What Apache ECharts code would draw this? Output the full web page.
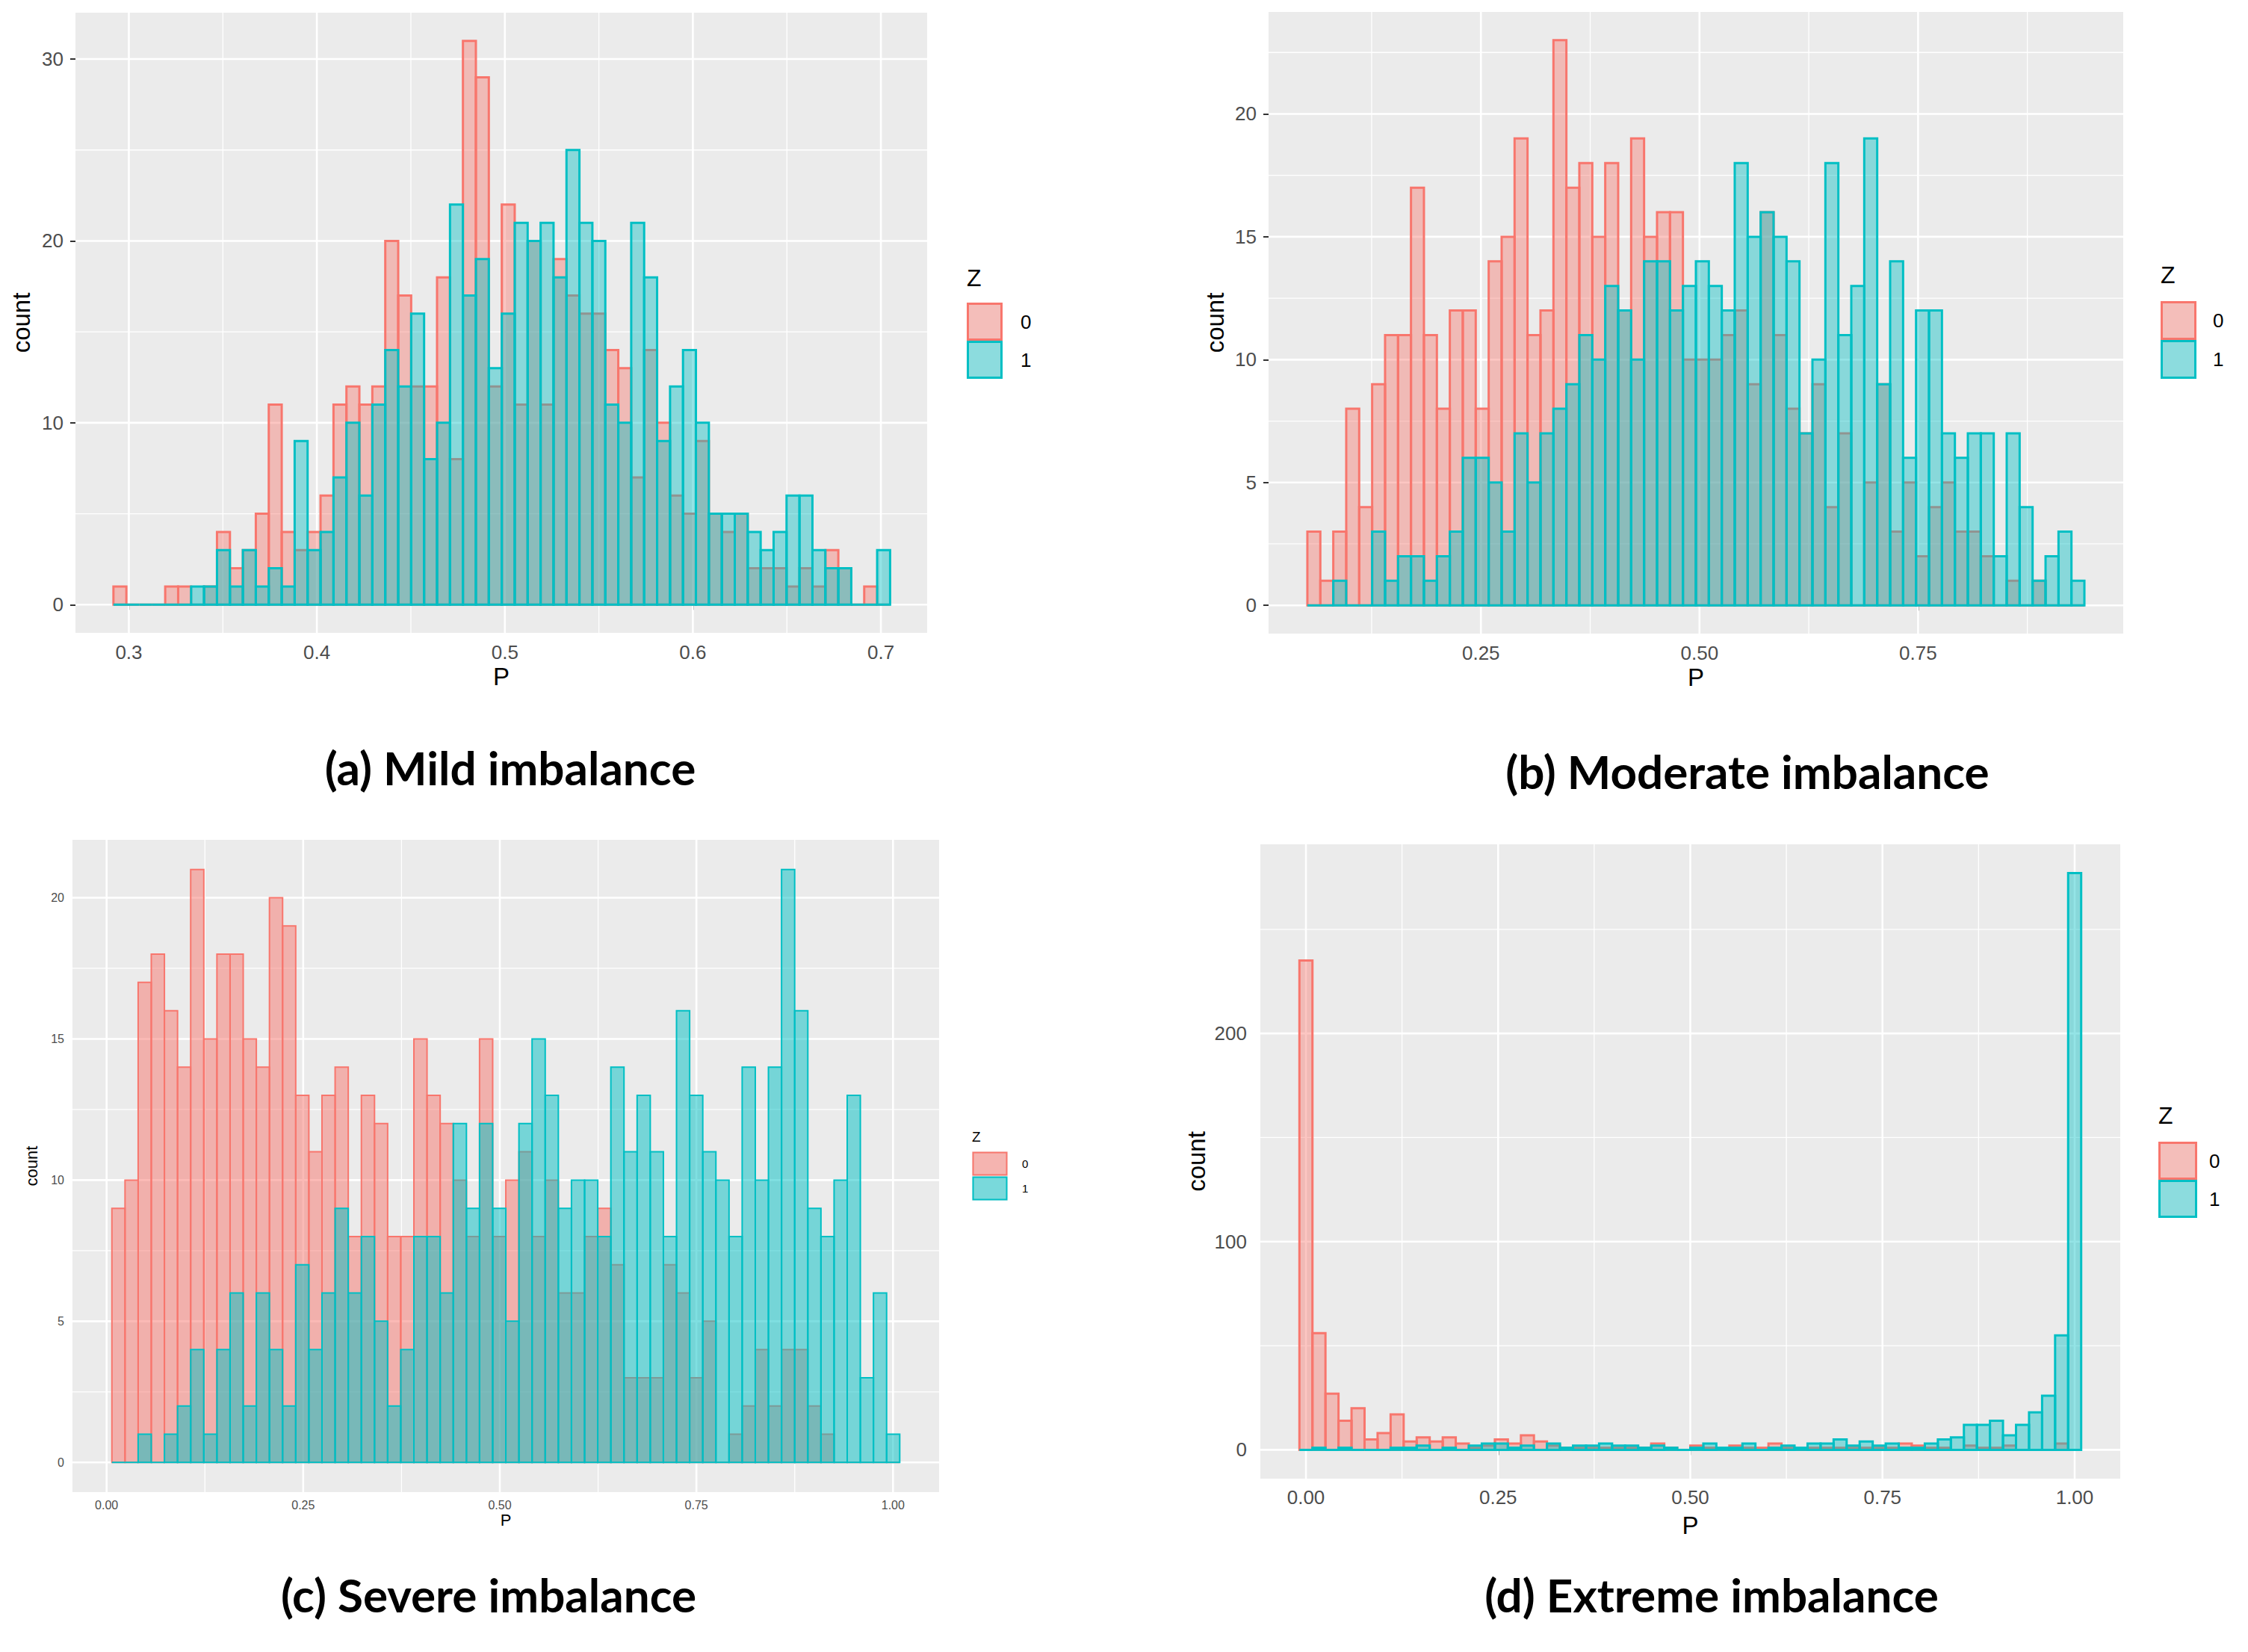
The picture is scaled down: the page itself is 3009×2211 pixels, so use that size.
<!DOCTYPE html>
<html>
<head>
<meta charset="utf-8">
<script src="https://cdn.jsdelivr.net/npm/echarts@6.0.0/dist/echarts.min.js"></script>
<style>
html, body { margin: 0; padding: 0; background: #ffffff; }
#grafico { width: 3009px; height: 2211px; }
</style>
</head>
<body>
<div id="grafico"></div>
<script>
// Datos: conteos por bin (60 bins por panel), Z = 0 (rojo) y Z = 1 (turquesa)
const rojoA = [1,0,0,0,1,1,0,1,4,2, 3,5,11,4,3,4,6,11,12,11, 12,20,17,12,12,18,8,31,29,12,
               22,11,20,11,19,17,16,16,14,13, 7,14,10,6,5,9,5,4,5,2, 2,2,1,2,1,3,2,0,1,0];
const turqA = [0,0,0,0,0,0,1,1,3,1, 3,1,2,1,9,3,4,7,10,6, 11,14,12,16,8,10,22,17,19,13,
               16,21,20,21,18,25,21,20,11,10, 21,18,9,12,14,10,5,5,5,4, 3,4,6,6,3,2,2,0,0,3];

const rojoB = [3,1,3,8,4,9,11,11,17,11, 8,12,12,8,14,15,19,11,12,23, 17,18,15,18,12,19,15,16,16,10,
               10,10,11,12,9,16,11,8,7,9, 4,7,0,5,9,3,5,2,4,5, 3,3,2,0,1,0,1,0,0,0];
const turqB = [0,0,1,0,0,3,1,2,2,1, 2,3,6,6,5,3,7,5,7,8, 9,11,10,13,12,10,14,14,12,13,
               14,13,12,18,15,16,15,14,7,10, 18,11,13,19,9,14,6,12,12,7, 6,7,7,2,7,4,1,2,3,1];

const rojoC = [9,10,17,18,16,14,21,15,18,18, 15,14,20,19,13,11,13,14,8,13, 12,8,8,15,13,12,10,8,15,8,
               10,11,8,10,6,6,8,9,7,3, 3,3,7,6,3,5,0,1,2,4, 2,4,4,2,1,0,0,0,0,0];
const turqC = [0,0,1,0,1,2,4,1,4,6, 2,6,4,2,7,4,6,9,6,8, 5,2,4,8,8,6,12,9,12,9,
               5,12,15,13,9,10,10,8,14,11, 13,11,8,16,13,11,10,8,14,10, 14,21,16,9,8,10,13,3,6,1];

const rojoD = [235,56,27,14,20,5,8,17,4,6, 4,6,3,1,2,5,3,7,4,2, 1,1,1,1,1,1,1,3,1,0,
               2,1,0,2,1,1,3,1,0,1, 1,1,1,1,1,1,3,2,1,1, 0,2,1,1,2,0,0,0,3,0];
const turqD = [0,1,0,1,0,0,0,1,1,2, 0,1,0,2,3,3,1,2,0,3, 1,2,2,3,2,2,1,2,1,0,
               1,3,1,1,3,0,1,2,1,3, 3,5,2,4,2,3,1,1,3,5, 6,12,12,14,7,12,18,26,55,277];

// Bins: [inicio, ancho]
const binA = [0.2918, 0.006885];
const binB = [0.0515, 0.014813];
const binC = [0.00673, 0.016697];
const binD = [-0.008475, 0.016949];

// Ticks
const ticksXA = [0.3, 0.4, 0.5, 0.6, 0.7];
const menoresXA = [0.35, 0.45, 0.55, 0.65];
const ticksYA = [0, 10, 20, 30];
const menoresYA = [5, 15, 25];

const ticksXB = [0.25, 0.5, 0.75];
const menoresXB = [0.125, 0.375, 0.625, 0.875];
const ticksYB = [0, 5, 10, 15, 20];
const menoresYB = [2.5, 7.5, 12.5, 17.5, 22.5];

const ticksXC = [0, 0.25, 0.5, 0.75, 1];
const menoresXC = [0.125, 0.375, 0.625, 0.875];
const ticksYC = [0, 5, 10, 15, 20];
const menoresYC = [2.5, 7.5, 12.5, 17.5];

const ticksXD = [0, 0.25, 0.5, 0.75, 1];
const menoresXD = [0.125, 0.375, 0.625, 0.875];
const ticksYD = [0, 100, 200];
const menoresYD = [50, 150, 250];

const titulos = ['(a) Mild imbalance', '(b) Moderate imbalance', '(c) Severe imbalance', '(d) Extreme imbalance'];
const clases = ['0', '1'];

// Configuración de cada panel (posición y estilo)
const paneles = [
    { rojo: rojoA, turq: turqA, bin: binA, tx: ticksXA, mx: menoresXA, ty: ticksYA, my: menoresYA,
      left: 101, top: 17, width: 1140, height: 830, xr: [0.2716, 0.7246], yr: [-1.55, 32.55], dec: 1,
      tick: 26, nombre: 33, gapY: 56, gapX: 42, mX: 13, mY: 16, grosor: 3, alfa: 0.42, tLen: 7,
      titulo: [683, 1027], ley: { x: 1294, zy: 374, y: 405, w: 48, h: 51, lx: 1366, zt: 32, lt: 26 } },
    { rojo: rojoB, turq: turqB, bin: binB, tx: ticksXB, mx: menoresXB, ty: ticksYB, my: menoresYB,
      left: 1698, top: 16, width: 1144, height: 832, xr: [0.0071, 0.9847], yr: [-1.15, 24.15], dec: 2,
      tick: 26, nombre: 33, gapY: 55, gapX: 42, mX: 13, mY: 16, grosor: 3, alfa: 0.42, tLen: 7,
      titulo: [2339, 1032], ley: { x: 2892, zy: 370, y: 403, w: 48, h: 52, lx: 2962, zt: 32, lt: 26 } },
    { rojo: rojoC, turq: turqC, bin: binC, tx: ticksXC, mx: menoresXC, ty: ticksYC, my: menoresYC,
      left: 97, top: 1124, width: 1160, height: 873, xr: [-0.0434, 1.0586], yr: [-1.05, 22.05], dec: 2,
      tick: 16, nombre: 22, gapY: 44, gapX: 26, mX: 9, mY: 11, grosor: 2, alfa: 0.5, tLen: 4,
      titulo: [654, 2134], ley: { x: 1301, zy: 1522, y: 1541, w: 48, h: 33, lx: 1368, zt: 19, lt: 15 } },
    { rojo: rojoD, turq: turqD, bin: binD, tx: ticksXD, mx: menoresXD, ty: ticksYD, my: menoresYD,
      left: 1687, top: 1130, width: 1151, height: 849, xr: [-0.0593, 1.0593], yr: [-13.85, 290.85], dec: 2,
      tick: 26, nombre: 33, gapY: 69, gapX: 46, mX: 12, mY: 18, grosor: 3, alfa: 0.42, tLen: 7,
      titulo: [2291, 2134], ley: { x: 2889, zy: 1495, y: 1528, w: 52, h: 51, lx: 2957, zt: 32, lt: 26 } }
];

const ROJO = [248, 118, 109];
const TURQ = [0, 191, 196];
const FUENTE = '"Liberation Sans", Arial, sans-serif';

function rgba(c, a) {
    return 'rgba(' + c[0] + ',' + c[1] + ',' + c[2] + ',' + a + ')';
}

// Convierte conteos en [x0, x1, conteo]
function procesarBins(conteos, bin) {
    return conteos.map((c, i) => [bin[0] + bin[1] * i, bin[0] + bin[1] * (i + 1), c]);
}

function dibujarBarra(relleno, borde, grosor) {
    return function (params, api) {
        const p0 = api.coord([api.value(0), 0]);
        const p1 = api.coord([api.value(1), api.value(2)]);
        return {
            type: 'rect',
            shape: { x: p0[0], y: p1[1], width: p1[0] - p0[0], height: p0[1] - p1[1] },
            style: { fill: relleno, stroke: borde, lineWidth: grosor }
        };
    };
}

function lineaVertical(params, api) {
    const cs = params.coordSys;
    const x = api.coord([api.value(0), api.value(1)])[0];
    return {
        type: 'line',
        shape: { x1: x, y1: cs.y, x2: x, y2: cs.y + cs.height },
        style: { stroke: '#ffffff', lineWidth: api.value(2) ? 2.6 : 1.3 }
    };
}

function lineaHorizontal(params, api) {
    const cs = params.coordSys;
    const y = api.coord([api.value(0), api.value(1)])[1];
    return {
        type: 'line',
        shape: { x1: cs.x, y1: y, x2: cs.x + cs.width, y2: y },
        style: { stroke: '#ffffff', lineWidth: api.value(2) ? 2.6 : 1.3 }
    };
}

function crearGrafico() {
    const grid = [], xAxis = [], yAxis = [], series = [], graphic = [];

    paneles.forEach((p, i) => {
        grid.push({
            left: p.left, top: p.top, width: p.width, height: p.height,
            show: true, backgroundColor: '#EBEBEB', borderWidth: 0,
            containLabel: false, outerBoundsMode: 'none'
        });
        xAxis.push({
            type: 'value', gridIndex: i, min: p.xr[0], max: p.xr[1],
            name: 'P', nameLocation: 'middle', nameGap: p.gapX,
            nameTextStyle: { fontSize: p.nombre, color: '#000', fontFamily: FUENTE },
            axisLine: { show: false },
            axisTick: { show: true, customValues: p.tx, length: p.tLen, lineStyle: { color: '#333', width: p.grosor - 1 } },
            axisLabel: { customValues: p.tx, margin: p.mX, fontSize: p.tick, color: '#4D4D4D', fontFamily: FUENTE,
                         formatter: v => Number(v).toFixed(p.dec) },
            splitLine: { show: false }
        });
        yAxis.push({
            type: 'value', gridIndex: i, min: p.yr[0], max: p.yr[1],
            name: 'count', nameLocation: 'middle', nameGap: p.gapY, nameRotate: 90,
            nameTextStyle: { fontSize: p.nombre, color: '#000', fontFamily: FUENTE },
            axisLine: { show: false },
            axisTick: { show: true, customValues: p.ty, length: p.tLen, lineStyle: { color: '#333', width: p.grosor - 1 } },
            axisLabel: { customValues: p.ty, margin: p.mY, fontSize: p.tick, color: '#4D4D4D', fontFamily: FUENTE,
                         formatter: v => String(Math.round(v)) },
            splitLine: { show: false }
        });

        const medioX = (p.xr[0] + p.xr[1]) / 2;
        const medioY = (p.yr[0] + p.yr[1]) / 2;
        series.push({
            type: 'custom', xAxisIndex: i, yAxisIndex: i, z: 1, silent: true,
            renderItem: lineaVertical, encode: { x: 0, y: 1 },
            data: p.mx.map(v => [v, medioY, 0]).concat(p.tx.map(v => [v, medioY, 1]))
        });
        series.push({
            type: 'custom', xAxisIndex: i, yAxisIndex: i, z: 1, silent: true,
            renderItem: lineaHorizontal, encode: { x: 0, y: 1 },
            data: p.my.map(v => [medioX, v, 0]).concat(p.ty.map(v => [medioX, v, 1]))
        });
        series.push({
            name: 'Z = 0', type: 'custom', xAxisIndex: i, yAxisIndex: i, z: 2,
            renderItem: dibujarBarra(rgba(ROJO, p.alfa), rgba(ROJO, 1), p.grosor),
            encode: { x: [0, 1], y: 2 },
            data: procesarBins(p.rojo, p.bin)
        });
        series.push({
            name: 'Z = 1', type: 'custom', xAxisIndex: i, yAxisIndex: i, z: 3,
            renderItem: dibujarBarra(rgba(TURQ, p.alfa), rgba(TURQ, 1), p.grosor),
            encode: { x: [0, 1], y: 2 },
            data: procesarBins(p.turq, p.bin)
        });

        // Leyenda
        const l = p.ley;
        graphic.push({
            type: 'text', left: l.x, top: l.zy - l.zt * 0.55,
            style: { text: 'Z', fontSize: l.zt, fill: '#000', fontFamily: FUENTE }
        });
        [ROJO, TURQ].forEach((c, k) => {
            graphic.push({
                type: 'rect', shape: { x: l.x, y: l.y + k * l.h, width: l.w, height: l.h },
                style: { fill: '#F2F2F2' }
            });
            graphic.push({
                type: 'rect', shape: { x: l.x + 1.5, y: l.y + k * l.h + 1.5, width: l.w - 3, height: l.h - 3 },
                style: { fill: rgba(c, p.alfa), stroke: rgba(c, 1), lineWidth: p.grosor }
            });
            graphic.push({
                type: 'text', x: l.lx, y: l.y + k * l.h + l.h / 2,
                style: { text: clases[k], fontSize: l.lt, fill: '#000', fontFamily: FUENTE, verticalAlign: 'middle' }
            });
        });

        // Título del panel
        graphic.push({
            type: 'text', x: p.titulo[0], y: p.titulo[1],
            style: { text: titulos[i], fontSize: 62, fontWeight: 'bold', fill: '#000',
                     fontFamily: 'Lato, "Open Sans", sans-serif', align: 'center', verticalAlign: 'middle' }
        });
    });

    return { animation: false, backgroundColor: '#ffffff', grid, xAxis, yAxis, series, graphic };
}

function iniciar() {
    const chartDom = document.getElementById('grafico');
    const myChart = echarts.init(chartDom, null, { renderer: 'svg' });
    myChart.setOption(crearGrafico());
}

iniciar();
</script>
</body>
</html>
